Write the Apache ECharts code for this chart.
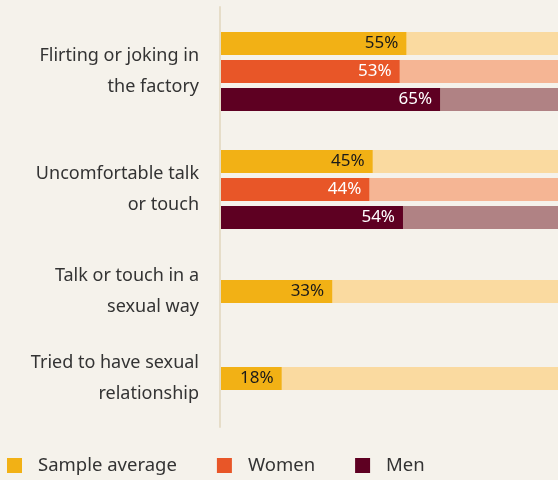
<!DOCTYPE html>
<html>
<head>
<meta charset="utf-8">
<script src="https://cdn.jsdelivr.net/npm/echarts@6/dist/echarts.min.js"></script>
<style>
  html, body { margin: 0; padding: 0; background: #f5f2eb; }
  #chart { width: 558px; height: 480px; }
</style>
</head>
<body>
<div id="chart"></div>
<script>
var categories = ['Flirting or joking in\nthe factory', 'Uncomfortable talk\nor touch', 'Talk or touch in a\nsexual way', 'Tried to have sexual\nrelationship'];
var seriesNames = ['Sample average', 'Women', 'Men'];
var sampleAvg = [55, 45, 33, 18];
var women = [53, 44, null, null];
var men = [65, 54, null, null];

var COLORS = ['#f2b115', '#e85628', '#5e0022'];
var LIGHT = ['#fadaa0', '#f5b594', '#b08284'];
var LABEL_COLORS = ['#1a1a1a', '#ffffff', '#ffffff'];

// each category sits in its own grid so the groups can be spaced like the original
var gridTops = [32, 150, 280, 367];
var FONT = 'Noto Sans';

var values = [sampleAvg, women, men];
var grids = [], xAxes = [], yAxes = [], series = [];

categories.forEach(function (cat, i) {
	var count = 0;
	values.forEach(function (v) { if (v[i] != null) count++; });
	grids.push({ left: 221, right: 0, top: gridTops[i], height: count * 23 + (count - 1) * 5 });
	xAxes.push({ gridIndex: i, type: 'value', min: 0, max: 100, show: false });
	yAxes.push({
		gridIndex: i,
		type: 'category',
		inverse: true,
		data: [cat],
		axisLine: { show: false },
		axisTick: { show: false },
		axisLabel: {
			margin: 22,
			fontSize: 18,
			lineHeight: 31,
			color: '#333',
			fontFamily: FONT,
			align: 'right',
			padding: [6, 0, 0, 0]
		}
	});
	values.forEach(function (v, s) {
		if (v[i] == null) return;
		series.push({
			name: seriesNames[s],
			type: 'bar',
			xAxisIndex: i,
			yAxisIndex: i,
			barWidth: 23,
			barGap: '21.7%',
			barCategoryGap: 0,
			itemStyle: { color: COLORS[s] },
			showBackground: true,
			backgroundStyle: { color: LIGHT[s] },
			label: {
				show: true,
				position: 'insideRight',
				distance: 8,
				formatter: '{c}%',
				fontSize: 17,
				fontFamily: FONT,
				color: LABEL_COLORS[s]
			},
			data: [v[i]]
		});
	});
});

// thin vertical axis line behind the labels
grids.push({ left: 220, width: 1, top: 7, bottom: 53 });
xAxes.push({ gridIndex: 4, type: 'value', show: false });
yAxes.push({
	gridIndex: 4,
	type: 'value',
	axisLine: { show: true, lineStyle: { color: '#e6ddc8', width: 2 } },
	axisTick: { show: false },
	axisLabel: { show: false },
	splitLine: { show: false }
});

var myChart = echarts.init(document.getElementById('chart'));
myChart.setOption({
	backgroundColor: '#f5f2eb',
	animation: false,
	legend: {
		data: seriesNames,
		left: 2,
		top: 451,
		icon: 'rect',
		itemWidth: 15,
		itemHeight: 15,
		itemGap: 40,
		textStyle: { fontSize: 18.5, color: '#333', fontFamily: FONT, padding: [0, 0, 0, 11] }
	},
	grid: grids,
	xAxis: xAxes,
	yAxis: yAxes,
	series: series
});
</script>
</body>
</html>
